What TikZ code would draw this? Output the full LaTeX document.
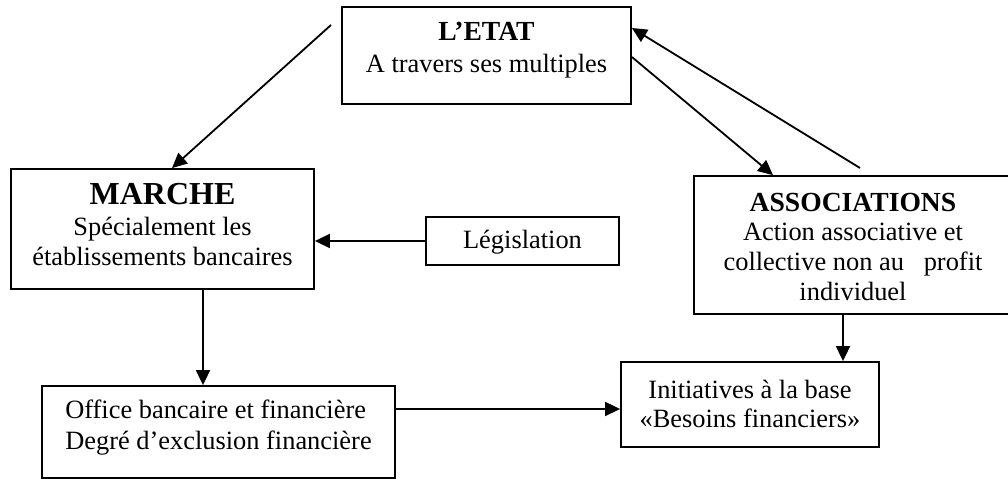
\documentclass[tikz,border=0pt]{standalone}
\usepackage{fontspec}
\setmainfont{Liberation Serif}
\usetikzlibrary{arrows.meta}

\tikzset{
  box/.style={draw, line width=0.9pt, inner sep=0pt},
  txt/.style={inner sep=0pt, align=center,
    font=\fontsize{13.2}{14.8}\selectfont},
  conn/.style={line width=0.9pt, -{Triangle[length=7.5pt,width=7pt]}},
}
\newcommand{\head}[1]{{\fontsize{13.8}{14.8}\selectfont\textbf{#1}}}
\newcommand{\bighead}[1]{{\fontsize{16}{16}\selectfont\textbf{#1}}}

\begin{document}
\begin{tikzpicture}[x=0.5pt, y=-0.5pt]
  \useasboundingbox (0,0) rectangle (1008,480);

  % frames
  \node[box, minimum width=144.5pt, minimum height=48.5pt] (etat) at (486.5,55.5) {};
  \node[box, minimum width=151.5pt, minimum height=60pt] (marche) at (162.5,229) {};
  \node[box, minimum width=96.5pt, minimum height=24pt] (legis) at (522.5,241) {};
  \node[box, minimum width=159pt, minimum height=69pt] (assoc) at (853,245) {};
  \node[box, minimum width=176.5pt, minimum height=46pt] (office) at (218.5,432) {};
  \node[box, minimum width=129pt, minimum height=42.5pt] (init) at (750,404.5) {};

  % texts
  \node[txt] (etat-t) at ([yshift=2.6pt]etat.center)
    {\head{L'ETAT}\\[1.5pt]A travers ses multiples};
  \node[txt] (marche-t) at ([yshift=2.4pt]marche.center)
    {\bighead{MARCHE}\\[1pt]Spécialement les\\établissements bancaires};
  \node[txt] (legis-t) at ([yshift=-0.5pt]legis.center) {Législation};
  \node[txt] (assoc-t) at ([yshift=-0.8pt]assoc.center)
    {\head{ASSOCIATIONS}\\Action associative et\\collective non au~~~profit\\individuel};
  \node[txt, align=left] (office-t) at ([yshift=2.2pt]office.center)
    {Office bancaire et financière\\[1pt]Degré d'exclusion financière};
  \node[txt] (init-t) at ([yshift=0.3pt]init.center)
    {Initiatives à la base\\«Besoins financiers»};

  % free ends of the diagonal connectors
  \coordinate (etatout) at (331,25);
  \coordinate (assocout) at (860,168);

  % connectors
  \draw[conn] (etatout) -- (marche.north -| 172,0);
  \draw[conn] (etat.east |- 0,57) -- (assoc.north -| 773,0);
  \draw[conn] (assocout) -- (etat.east |- 0,28);
  \draw[conn] (legis.west) -- (legis.west -| marche.east);
  \draw[conn] (marche.south -| 203,0) -- (office.north -| 203,0);
  \draw[conn] (assoc.south -| 843,0) -- (init.north -| 843,0);
  \draw[conn] (office.east |- 0,409) -- (init.west |- 0,409);
\end{tikzpicture}
\end{document}
